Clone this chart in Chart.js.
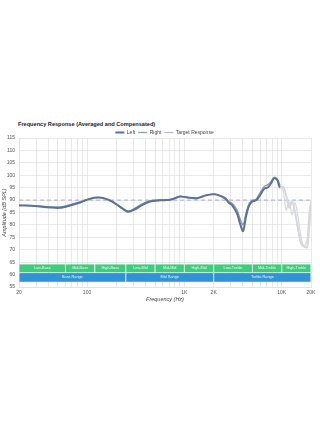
<!DOCTYPE html>
<html>
<head>
<meta charset="utf-8">
<script src="https://cdn.jsdelivr.net/npm/chart.js@4.4.1/dist/chart.umd.min.js"></script>
<style>
  html, body { margin: 0; padding: 0; background: #fff; }
  #wrap { position: relative; width: 320px; height: 425px; }
  #title { position: absolute; left: 18px; top: 121px; font: bold 5.6px "Liberation Sans", Arial, sans-serif; color: #222; }
  canvas { position: absolute; left: 0; top: 0; }
</style>
</head>
<body>
<div id="wrap">
  <div id="title">Frequency Response (Averaged and Compensated)</div>
  <canvas id="chart" width="320" height="425"></canvas>
</div>
<script>
// data
const frequencies = [20, 23, 29, 42, 53, 67, 85, 107, 130, 153, 181, 218, 264, 311, 367, 444, 563, 713, 904, 1016, 1144, 1350, 1632, 1926, 2168, 2618, 2880, 3090, 3480, 3736, 4008, 4306, 4623, 4966, 5459, 6000, 6600, 7245, 7780, 8355, 8974, 9620, 10330, 11100, 11920, 12800, 13740, 14760, 15820, 17000, 18240, 19140, 20000];
const leftValues = [87.8, 87.8, 87.6, 87.0, 86.9, 87.8, 89.0, 90.5, 91.0, 90.6, 89.4, 87.3, 85.3, 86.3, 88.0, 89.4, 89.9, 90.1, 91.4, 91.2, 90.9, 90.7, 91.8, 92.3, 92.2, 90.8, 88.8, 88.0, 84.6, 80.5, 77.5, 83.5, 87.8, 89.4, 89.9, 92.0, 94.5, 95.2, 96.8, 98.8, 98.2, 95.0, 95.4, 92.0, 87.0, 89.5, 85.0, 78.0, 72.5, 71.2, 71.0, 79.0, 89.0];
const rightValues = [87.9, 87.9, 87.8, 87.3, 87.3, 88.2, 89.3, 90.6, 91.1, 90.7, 89.6, 87.5, 85.6, 86.8, 88.5, 89.8, 90.1, 90.2, 91.5, 91.3, 91.0, 90.9, 91.9, 92.4, 92.1, 90.5, 89.3, 88.7, 86.0, 82.5, 80.0, 85.0, 88.6, 89.8, 90.4, 93.0, 95.5, 96.3, 97.6, 99.2, 98.6, 96.0, 94.0, 86.0, 89.3, 84.0, 89.0, 83.0, 75.0, 71.5, 74.0, 85.0, 90.0];
const targetFreqs = [20, 20000];
const targetValues = [90, 90];

const xTickValues = [20, 30, 40, 50, 60, 70, 80, 90, 100, 200, 300, 400, 500, 600, 700, 800, 900, 1000, 2000, 3000, 4000, 5000, 6000, 7000, 8000, 9000, 10000, 20000];
const xTickLabels = { 20: '20', 100: '100', 1000: '1K', 2000: '2K', 10000: '10K', 20000: '20K' };

const subBandNames = ['Low-Bass', 'Mid-Bass', 'High-Bass', 'Low-Mid', 'Mid-Mid', 'High-Mid', 'Low-Treble', 'Mid-Treble', 'High-Treble'];
const subBandEdges = [20, 60, 120, 250, 500, 1000, 2000, 5000, 10000, 20000];
const rangeNames = ['Bass Range', 'Mid Range', 'Treble Range'];
const rangeEdges = [20, 250, 2000, 20000];

const fadeFrom = 9000;

function toPoints(xs, ys) {
  return xs.map((x, i) => ({ x: x, y: ys[i] }));
}

// frequency band strips under the curves
const bandPlugin = {
  id: 'bands',
  beforeDatasetsDraw(chart) {
    const ctx = chart.ctx;
    const x = chart.scales.x;
    const y = chart.scales.y;
    const drawRow = (names, edges, top, bottom, color) => {
      const yt = y.getPixelForValue(top);
      const yb = y.getPixelForValue(bottom);
      names.forEach((name, i) => {
        const x0 = x.getPixelForValue(edges[i]);
        const x1 = x.getPixelForValue(edges[i + 1]);
        ctx.fillStyle = color;
        ctx.fillRect(x0 + 0.5, yt, x1 - x0 - 1, yb - yt);
        ctx.fillStyle = 'rgba(255,255,255,0.9)';
        ctx.font = '3.8px "Liberation Sans", Arial, sans-serif';
        ctx.textAlign = 'center';
        ctx.textBaseline = 'middle';
        ctx.fillText(name, (x0 + x1) / 2, (yt + yb) / 2);
      });
    };
    ctx.save();
    drawRow(subBandNames, subBandEdges, 64.1, 60.9, '#3dcd7d');
    drawRow(rangeNames, rangeEdges, 60.6, 57.1, '#2f93dc');
    ctx.restore();
  }
};

// keep the legend row tight and centred over the plot
const legendFitPlugin = {
  id: 'legendFit',
  beforeInit(chart) {
    const fit = chart.legend.fit;
    chart.legend.fit = function () {
      fit.call(this);
      this.height = 11;
    };
  },
  afterLayout(chart) {
    chart.legend.left = 18;
  }
};

const fade = (color, faded) => ({
  borderColor: c => c.p0.parsed.x >= fadeFrom ? faded : color
});

new Chart(document.getElementById('chart'), {
  type: 'line',
  data: {
    datasets: [
      {
        label: 'Left',
        data: toPoints(frequencies, leftValues),
        borderColor: '#58729a',
        borderWidth: 2,
        segment: fade('#58729a', '#d6d8dc'),
        pointRadius: 0,
        tension: 0.3,
        pointStyle: 'line'
      },
      {
        label: 'Right',
        data: toPoints(frequencies, rightValues),
        borderColor: '#8e9bb0',
        borderWidth: 1.3,
        segment: fade('#8e9bb0', '#d9dadd'),
        pointRadius: 0,
        tension: 0.3,
        pointStyle: 'line'
      },
      {
        label: 'Target Response',
        data: toPoints(targetFreqs, targetValues),
        borderColor: '#b3bbe6',
        borderWidth: 1.3,
        borderDash: [4, 3],
        pointRadius: 0,
        pointStyle: 'line'
      }
    ]
  },
  options: {
    responsive: false,
    animation: false,
    layout: { padding: { top: 127, bottom: 122, left: 0, right: 9 } },
    plugins: {
      legend: {
        position: 'top',
        labels: {
          usePointStyle: true,
          pointStyleWidth: 9,
          padding: 3,
          boxHeight: 5,
          color: '#444',
          font: { size: 5, family: '"Liberation Sans", Arial, sans-serif' }
        }
      },
      tooltip: { enabled: false }
    },
    scales: {
      x: {
        type: 'logarithmic',
        min: 20,
        max: 20000,
        afterBuildTicks: scale => { scale.ticks = xTickValues.map(v => ({ value: v })); },
        afterFit: scale => { scale.height = 16; },
        ticks: {
          autoSkip: false,
          maxRotation: 0,
          padding: 3,
          color: '#555',
          font: { size: 5, family: '"Liberation Sans", Arial, sans-serif' },
          callback: v => xTickLabels[v] || ''
        },
        grid: { color: '#e3e3e3', lineWidth: 0.8, drawTicks: false },
        border: { color: '#e3e3e3' },
        title: {
          display: true,
          text: 'Frequency (Hz)',
          color: '#444',
          padding: { top: 1, bottom: 0 },
          font: { size: 5.5, style: 'italic', family: '"Liberation Sans", Arial, sans-serif' }
        }
      },
      y: {
        min: 55,
        max: 115,
        afterFit: scale => { scale.width = 19; },
        ticks: {
          stepSize: 5,
          padding: 4,
          color: '#555',
          font: { size: 5, family: '"Liberation Sans", Arial, sans-serif' }
        },
        grid: { color: '#e3e3e3', lineWidth: 0.8, drawTicks: false },
        border: { color: '#e3e3e3' },
        title: {
          display: true,
          text: 'Amplitude (dB SPL)',
          color: '#444',
          padding: { top: 1, bottom: 0 },
          font: { size: 5.5, style: 'italic', family: '"Liberation Sans", Arial, sans-serif' }
        }
      }
    }
  },
  plugins: [bandPlugin, legendFitPlugin]
});
</script>
</body>
</html>
